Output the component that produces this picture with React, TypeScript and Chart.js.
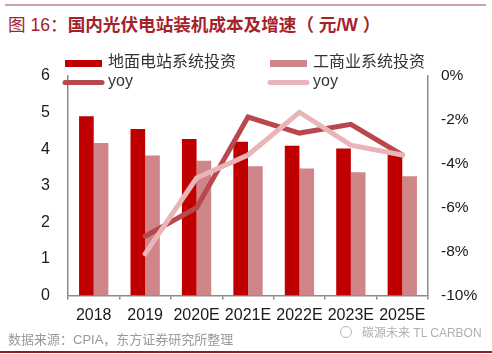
import React, { useEffect, useRef } from "react";
import { Chart, registerables } from "chart.js";

Chart.register(...registerables);

const categories = ["2018", "2019", "2020E", "2021E", "2022E", "2023E", "2025E"];
const groundCost = [4.9, 4.55, 4.28, 4.2, 4.09, 4.02, 3.86];
const commercialCost = [4.17, 3.83, 3.68, 3.53, 3.47, 3.37, 3.26];
const groundYoy = [null, -7.3, -6.0, -1.87, -2.6, -2.2, -3.6];
const commercialYoy = [null, -8.1, -4.65, -3.6, -1.65, -3.15, -3.6];

const seriesLabels = ["地面电站系统投资", "工商业系统投资", "yoy", "yoy"];
const COLORS = ["#c00000", "#d08589", "#b9484e", "#e8b6b8"];

const TXT_FONT = "'Liberation Sans', Arial, 'Noto Sans CJK SC', sans-serif";

const legendPlugin = {
  id: "customLegend",
  afterDraw(chart: any) {
    const ctx = chart.ctx as CanvasRenderingContext2D;
    const ds = chart.data.datasets;
    const cols = [65, 270];
    const rows = [63.5, 82.5];
    ctx.save();
    ds.forEach((d: any, i: number) => {
      const col = i % 2;
      const row = Math.floor(i / 2);
      const x = cols[col];
      const y = rows[row];
      if (d.type === "line") {
        ctx.strokeStyle = d.borderColor;
        ctx.lineWidth = 5;
        ctx.lineCap = "round";
        ctx.beginPath();
        ctx.moveTo(x, y);
        ctx.lineTo(x + 37, y);
        ctx.stroke();
      } else {
        ctx.fillStyle = d.backgroundColor;
        ctx.fillRect(x, y - 3.5, 37, 7);
      }
      ctx.fillStyle = "#333333";
      ctx.font = `16px ${TXT_FONT}`;
      ctx.textBaseline = "middle";
      ctx.textAlign = "left";
      ctx.fillText(d.label, x + 43, y - 1);
    });
    ctx.restore();
  },
};

export default function App() {
  const ref = useRef<HTMLCanvasElement | null>(null);

  useEffect(() => {
    if (!ref.current) return;
    const chart = new Chart(ref.current, {
      type: "bar",
      data: {
        labels: categories,
        datasets: [
          {
            type: "bar",
            label: seriesLabels[0],
            data: groundCost,
            backgroundColor: COLORS[0],
            yAxisID: "y",
            order: 3,
            categoryPercentage: 0.57,
            barPercentage: 1,
          },
          {
            type: "bar",
            label: seriesLabels[1],
            data: commercialCost,
            backgroundColor: COLORS[1],
            yAxisID: "y",
            order: 3,
            categoryPercentage: 0.57,
            barPercentage: 1,
          },
          {
            type: "line",
            label: seriesLabels[2],
            data: groundYoy,
            borderColor: COLORS[2],
            backgroundColor: COLORS[2],
            borderWidth: 5,
            pointRadius: 0,
            borderCapStyle: "round",
            borderJoinStyle: "miter",
            yAxisID: "y1",
            order: 2,
            spanGaps: false,
          },
          {
            type: "line",
            label: seriesLabels[3],
            data: commercialYoy,
            borderColor: COLORS[3],
            backgroundColor: COLORS[3],
            borderWidth: 5,
            pointRadius: 0,
            borderCapStyle: "round",
            borderJoinStyle: "miter",
            yAxisID: "y1",
            order: 1,
            spanGaps: false,
          },
        ] as any,
      },
      options: {
        responsive: false,
        animation: false,
        devicePixelRatio: 1,
        layout: { padding: { top: 76, left: 0, right: 0, bottom: 0 } },
        plugins: {
          legend: { display: false },
          tooltip: { enabled: false },
        },
        scales: {
          x: {
            offset: true,
            grid: {
              display: true,
              offset: true,
              drawOnChartArea: false,
              drawTicks: true,
              tickLength: 4,
              color: "#8c8c8c",
              lineWidth: 1.5,
            },
            border: { display: true, color: "#8c8c8c", width: 1.5 },
            ticks: {
              color: "#1a1a1a",
              font: { size: 16, family: TXT_FONT },
              padding: 6,
              maxRotation: 0,
              autoSkip: false,
            },
            afterFit(scale: any) {
              scale.height = 58.5;
            },
          },
          y: {
            position: "left",
            min: 0,
            max: 6,
            ticks: {
              stepSize: 1,
              color: "#1a1a1a",
              font: { size: 16, family: TXT_FONT },
              padding: 18,
            },
            grid: { display: false, drawTicks: false },
            border: { display: true, color: "#8c8c8c", width: 1.5 },
            afterFit(scale: any) {
              scale.width = 68;
            },
          },
          y1: {
            position: "right",
            min: -10,
            max: 0,
            ticks: {
              stepSize: 2,
              color: "#1a1a1a",
              font: { size: 15.5, family: TXT_FONT },
              padding: 13,
              callback: (v: any) => `${v}%`,
            },
            grid: { display: false, drawTicks: false },
            border: { display: true, color: "#8c8c8c", width: 1.5 },
            afterFit(scale: any) {
              scale.width = 64;
            },
          },
        },
      },
      plugins: [legendPlugin],
    });
    return () => chart.destroy();
  }, []);

  return (
    <div
      style={{
        position: "fixed",
        left: 0,
        top: 0,
        width: 492,
        height: 354,
        background: "#ffffff",
        overflow: "hidden",
      }}
    >
      <div
        style={{
          position: "absolute",
          left: 5,
          top: 4,
          width: 481,
          height: 2,
          background: "#c9a3a7",
        }}
      />
      <div
        style={{
          position: "absolute",
          left: 8,
          top: 13,
          fontSize: 17.6,
          lineHeight: "24px",
          color: "#a3232b",
          whiteSpace: "pre",
          fontFamily: "'Liberation Sans', Arial, 'Noto Sans CJK SC', sans-serif",
        }}
      >
        <span>图 16：</span>
        <span style={{ fontWeight: 700 }}>国内光伏电站装机成本及增速（ 元/W ）</span>
      </div>
      <canvas
        ref={ref}
        width={492}
        height={354}
        style={{ position: "absolute", left: 0, top: 0, width: 492, height: 354 }}
      />
      <div
        style={{
          position: "absolute",
          left: 8,
          top: 331,
          fontSize: 13,
          lineHeight: "18px",
          color: "#9a9a9a",
          whiteSpace: "nowrap",
          fontFamily: "'Liberation Sans', Arial, 'Noto Sans CJK SC', sans-serif",
        }}
      >
        数据来源：CPIA，东方证券研究所整理
      </div>
      <div
        style={{
          position: "absolute",
          left: 340,
          top: 324,
          fontSize: 12,
          lineHeight: "18px",
          color: "#b0b0b0",
          whiteSpace: "nowrap",
          fontFamily: "'Liberation Sans', Arial, 'Noto Sans CJK SC', sans-serif",
        }}
      >
        <span
          style={{
            display: "inline-block",
            width: 10,
            height: 10,
            border: "1px solid #b8b8b8",
            borderRadius: "50%",
            marginRight: 10,
            verticalAlign: "-1px",
          }}
        />
        碳源未来 TL CARBON
      </div>
      <div
        style={{
          position: "absolute",
          left: 0,
          top: 351,
          width: 492,
          height: 2,
          background: "#8e1c22",
        }}
      />
    </div>
  );
}
